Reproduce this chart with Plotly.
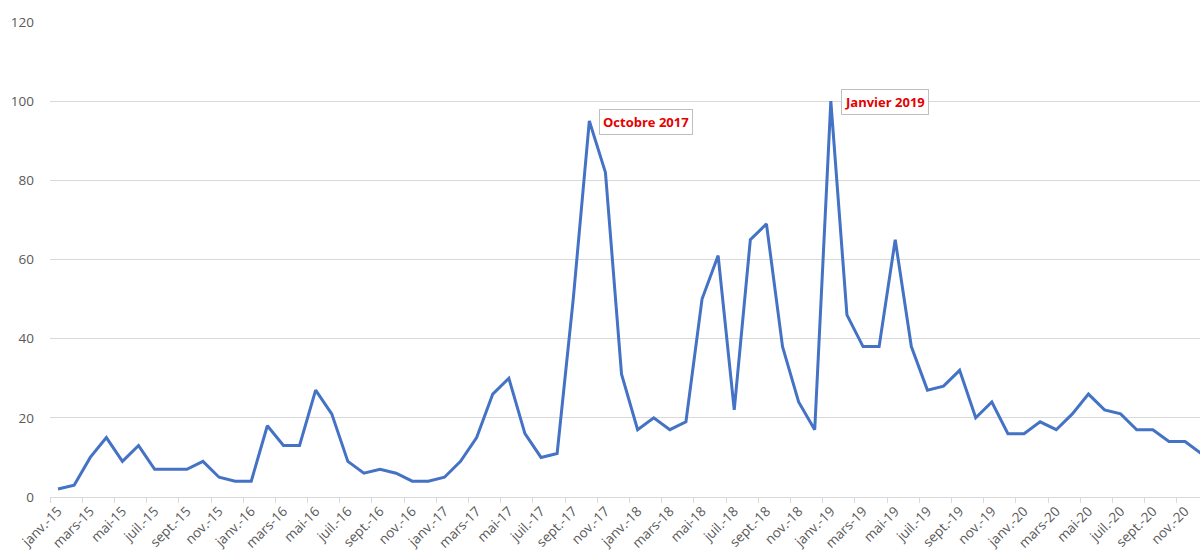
import plotly.graph_objects as go

# ---- data ----
month_abbr = ["janv.", "févr.", "mars", "avr.", "mai", "juin",
              "juil.", "août", "sept.", "oct.", "nov.", "déc."]
years = ["15", "16", "17", "18", "19", "20"]
categories = [f"{m}-{y}" for y in years for m in month_abbr]

values_2015 = [2, 3, 10, 15, 9, 13, 7, 7, 7, 9, 5, 4]
values_2016 = [4, 18, 13, 13, 27, 21, 9, 6, 7, 6, 4, 4]
values_2017 = [5, 9, 15, 26, 30, 16, 10, 11, 50, 95, 82, 31]
values_2018 = [17, 20, 17, 19, 50, 61, 22, 65, 69, 38, 24, 17]
values_2019 = [100, 46, 38, 38, 65, 38, 27, 28, 32, 20, 24, 16]
values_2020 = [16, 19, 17, 21, 26, 22, 21, 17, 17, 14, 14, 11]
values = values_2015 + values_2016 + values_2017 + values_2018 + values_2019 + values_2020

annot_labels = [("oct.-17", 95, "Octobre 2017"), ("janv.-19", 100, "Janvier 2019")]

y_ticks = [0, 20, 40, 60, 80, 100, 120]

# ---- figure ----
fig = go.Figure()
fig.add_trace(go.Scatter(
    x=categories, y=values, mode="lines",
    line=dict(color="#4472C4", width=3),
    hoverinfo="skip", showlegend=False,
))

for cat, val, txt in annot_labels:
    fig.add_annotation(
        x=cat, y=val, text=f"<b>{txt}</b>", showarrow=False,
        xanchor="left", yanchor="middle", xshift=10, yshift=-1,
        font=dict(family="Open Sans", size=13, color="#e60000"),
        bgcolor="white", bordercolor="#bfbfbf", borderwidth=1, borderpad=3,
    )

grey = "#595959"
fig.update_layout(
    width=1200, height=557,
    margin=dict(l=50, r=0, t=22, b=60),
    paper_bgcolor="white", plot_bgcolor="white",
    font=dict(family="Open Sans", size=13, color=grey),
    xaxis=dict(
        type="category", categoryorder="array", categoryarray=categories,
        range=[-0.5, 70.93],
        tickmode="linear", tick0=0, dtick=2,
        tickson="boundaries", ticks="outside", ticklen=5, tickcolor="#d9d9d9",
        showline=True, linecolor="#d9d9d9", linewidth=1,
        showgrid=False, zeroline=False,
        tickangle=-45, tickfont=dict(size=13.5, color=grey),
        fixedrange=True,
    ),
    yaxis=dict(
        range=[0, 120], tickmode="array", tickvals=y_ticks,
        showgrid=True, gridcolor="#d9d9d9", gridwidth=1,
        zeroline=False, showline=False, ticks="",
        ticklabelstandoff=15, tickfont=dict(size=13.5, color=grey),
        fixedrange=True,
    ),
)

fig.write_html("out.html")
